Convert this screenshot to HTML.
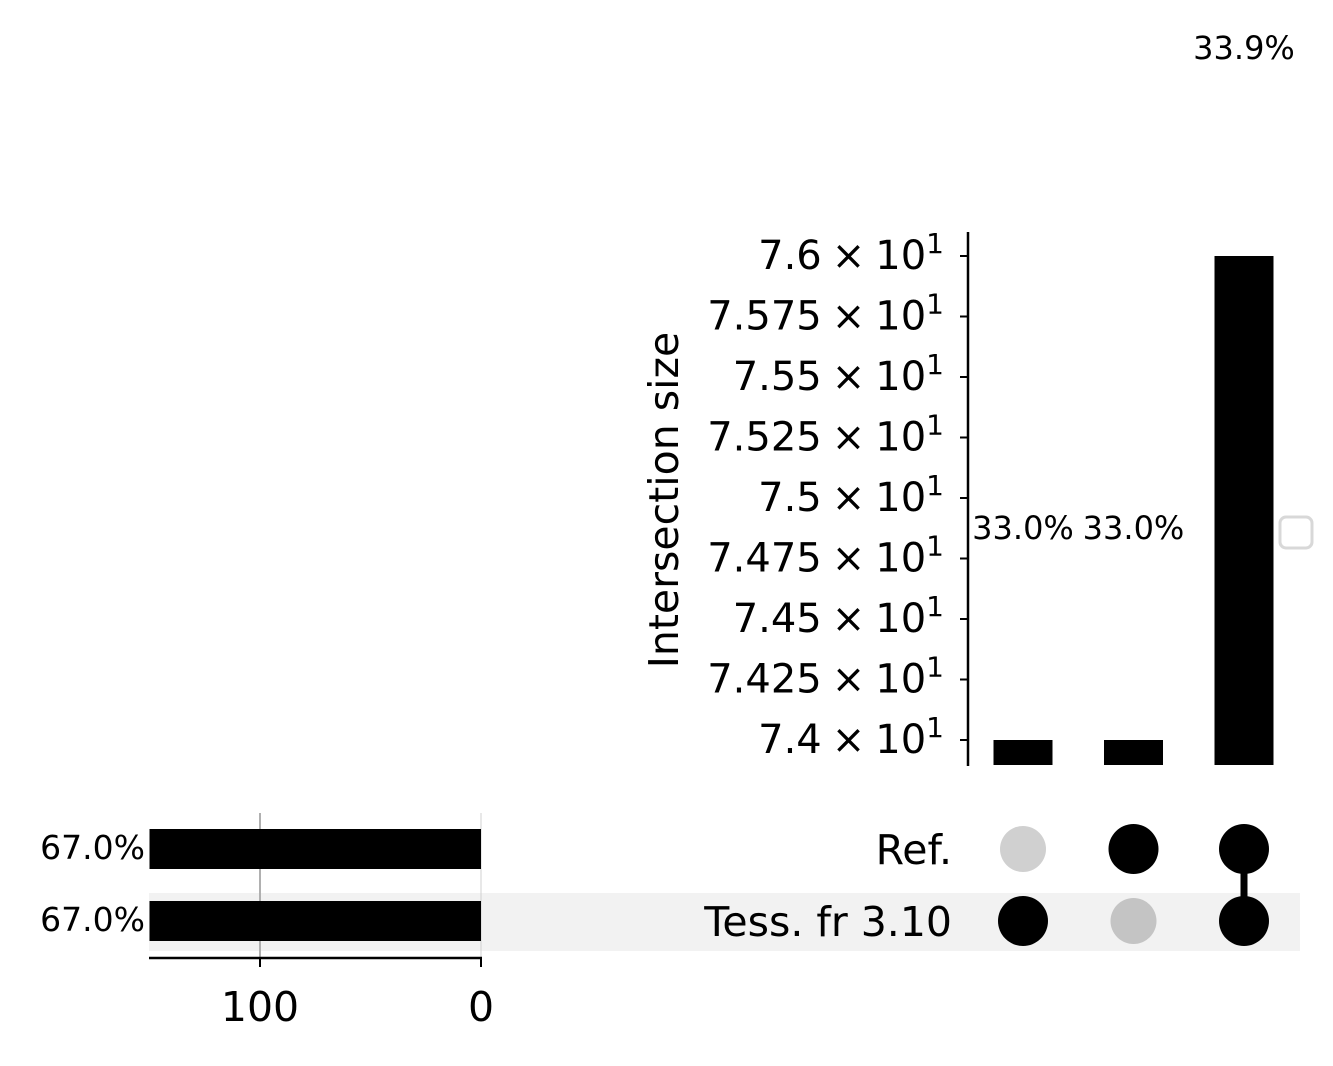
<!DOCTYPE html>
<html><head><meta charset="utf-8"><style>
body{margin:0;background:#fff}
svg{display:block;font-family:"DejaVu Sans","Liberation Sans",sans-serif}
</style></head><body>
<svg id="c" width="1333" height="1066" xmlns="http://www.w3.org/2000/svg"></svg>
<script>
const intersections=["Tess-only","Ref-only","Both"];
const interValues=[74,74,76];
const interPct=["33.0%","33.0%","33.9%"];
const sets=["Ref.","Tess. fr 3.10"];
const setTotals=[150,150];
const setPct=["67.0%","67.0%"];
const membership=[[0,1],[1,0],[1,1]];
const yTicks=[74,74.25,74.5,74.75,75,75.25,75.5,75.75,76];
const yTickLabels=["7.4","7.425","7.45","7.475","7.5","7.525","7.55","7.575","7.6"];
const xTicks=[100,0];

const svg=document.getElementById('c');
const NS='http://www.w3.org/2000/svg';
function el(t,a,txt){const e=document.createElementNS(NS,t);for(const k in a)e.setAttribute(k,a[k]);if(txt!==undefined)e.textContent=txt;svg.appendChild(e);return e;}
const yS=v=>740-(v-74)*242;
const colX=i=>1023+i*110.5;
const rowY=j=>849+j*72;
const xS=v=>481-v*2.21;
const yBottom=765;

let b=el('rect',{x:149,y:893,width:1151,height:58,fill:'#f2f2f2'});



let ax=el('line',{x1:968,y1:232,x2:968,y2:766,stroke:'#000','stroke-width':2.5});


yTicks.forEach((t,i)=>{
  const y=yS(t);
  let tk=el('line',{x1:960,y1:y,x2:968,y2:y,stroke:'#000','stroke-width':2});
  
  
  const tx=el('text',{x:944,y:y+13,'font-size':40,'text-anchor':'end'});
  
  
  tx.innerHTML=yTickLabels[i]+'\u2005×\u200510<tspan dy="-16" font-size="28">1</tspan>';
});
let yl=el('text',{x:678,y:500,'font-size':41,'text-anchor':'middle',transform:'rotate(-90 678 500)'},'Intersection size');



interValues.forEach((v,i)=>{
  const top=yS(v);
  let r=el('rect',{x:colX(i)-29.5,y:top,width:59,height:yBottom-top,fill:'#000'});
  
  
});
const pctY=[528,528,48];
interPct.forEach((p,i)=>{
  let t=el('text',{x:colX(i),y:pctY[i]+11,'font-size':32,'text-anchor':'middle'},p);
  
  
});
let lg=el('rect',{x:1280,y:517,width:32,height:31,rx:6,fill:'#fff',stroke:'#d8d8d8','stroke-width':3});



const inactive=['#d0d0d0','#c4c4c4'];
membership.forEach((m,i)=>{
  const act=m.map((a,j)=>a?j:-1).filter(j=>j>=0);
  if(act.length>1){
    let l=el('line',{x1:colX(i),y1:rowY(act[0]),x2:colX(i),y2:rowY(act[act.length-1]),stroke:'#000','stroke-width':7});
    
    
  }
  m.forEach((a,j)=>{
    let c=el('circle',{cx:colX(i),cy:rowY(j),r:a?25:23,fill:a?'#000':inactive[j]});
    
    
  });
});
sets.forEach((s,j)=>{
  let t=el('text',{x:952,y:rowY(j)+15,'font-size':41,'text-anchor':'end'},s);
  
  
});

let g=el('line',{x1:260,y1:813,x2:260,y2:958,stroke:'#b0b0b0','stroke-width':2});


let g0=el('line',{x1:481,y1:813,x2:481,y2:958,stroke:'#d0d0d0','stroke-width':1});


setTotals.forEach((v,j)=>{
  let r=el('rect',{x:xS(v),y:rowY(j)-20,width:xS(0)-xS(v),height:40,fill:'#000'});
  
  
  let t=el('text',{x:145,y:rowY(j)+10,'font-size':33,'text-anchor':'end'},setPct[j]);
  
  
});
let xa=el('line',{x1:149,y1:958,x2:482,y2:958,stroke:'#000','stroke-width':2.5});


xTicks.forEach(t=>{
  let tk=el('line',{x1:xS(t),y1:958,x2:xS(t),y2:967,stroke:'#000','stroke-width':2});
  
  
  let tx=el('text',{x:xS(t),y:1021,'font-size':41,'text-anchor':'middle'},String(t));
  
  
});
</script>
</body></html>
